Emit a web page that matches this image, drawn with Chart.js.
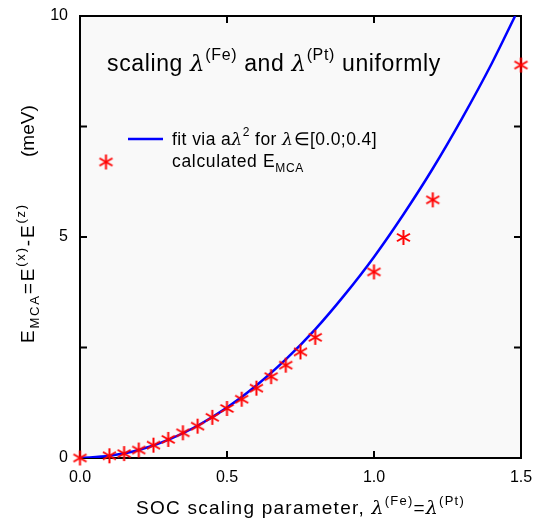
<!DOCTYPE html>
<html>
<head>
<meta charset="utf-8">
<script src="https://cdn.jsdelivr.net/npm/chart.js@4/dist/chart.umd.min.js"></script>
<style>
  html, body { margin: 0; padding: 0; background: #fff; }
  #wrap { width: 534px; height: 522px; }
</style>
</head>
<body>
<div id="wrap"><canvas id="emcaChart"></canvas></div>
<script>
// values
const lambdaCalc = [0, 0.1, 0.15, 0.2, 0.25, 0.3, 0.35, 0.4, 0.45, 0.5, 0.55, 0.6, 0.65, 0.7, 0.75, 0.8, 1.0, 1.1, 1.2, 1.5];
const emcaCalc = [0, 0.05, 0.1, 0.18, 0.29, 0.42, 0.57, 0.72, 0.92, 1.12, 1.33, 1.58, 1.84, 2.1, 2.4, 2.73, 4.21, 4.99, 5.84, 8.89];

const lambdaFit = [0, 0.1, 0.2, 0.3, 0.4, 0.5, 0.6, 0.7, 0.8, 0.9, 1.0, 1.1, 1.2, 1.3, 1.4, 1.48];
const emcaFit = [0, 0.05, 0.18, 0.41, 0.73, 1.14, 1.64, 2.23, 2.91, 3.69, 4.55, 5.51, 6.55, 7.69, 8.92, 10];

const xTickMarks = [0.5, 1.0];
const yTickMarks = [2.5, 5, 7.5];

const FONT = '"Liberation Sans", Arial, sans-serif';
const GREEK = '"DejaVu Serif", serif';

// six-ray asterisk used for the calculated points
function makeAsterisk(r, color) {
    const c = document.createElement('canvas');
    const s = Math.ceil(r * 2 + 4);
    c.width = s; c.height = s;
    const g = c.getContext('2d');
    g.strokeStyle = color;
    g.lineWidth = 2;
    g.translate(s / 2, s / 2);
    for (let i = 0; i < 3; i++) {
        const a = Math.PI / 2 + i * Math.PI / 3;
        g.beginPath();
        g.moveTo(Math.cos(a) * r, Math.sin(a) * r);
        g.lineTo(-Math.cos(a) * r, -Math.sin(a) * r);
        g.stroke();
    }
    return c;
}
const asterisk = makeAsterisk(7.5, '#ff0000');

function partFont(p, size) {
    let fs = size, dy = 0, font;
    if (p[1] === 'sup') { fs = Math.round(size * 0.7); dy = -size * 0.5; }
    if (p[1] === 'sub') { fs = Math.round(size * 0.7); dy = size * 0.28; }
    font = p[1] === 'g' ? 'italic ' + fs + 'px ' + GREEK : fs + 'px ' + FONT;
    return { font: font, dy: dy };
}

// text with super/subscripts: parts = [[text, 'n'|'g'|'sup'|'sub'], ...]
// spread out with letter spacing so it covers the given width
function drawRich(ctx, parts, x, y, size, width) {
    let natural = 0, chars = 0;
    ctx.letterSpacing = '0px';
    parts.forEach(function(p) {
        ctx.font = partFont(p, size).font;
        natural += ctx.measureText(p[0]).width;
        chars += p[0].length;
    });
    const sp = width ? Math.max(0, (width - natural) / chars) : 0;
    let cx = x;
    parts.forEach(function(p) {
        const f = partFont(p, size);
        ctx.font = f.font;
        ctx.letterSpacing = '0px';
        const w = ctx.measureText(p[0]).width + sp * p[0].length;
        ctx.letterSpacing = sp.toFixed(2) + 'px';
        ctx.fillText(p[0], cx, y + f.dy);
        cx += w;
    });
    ctx.letterSpacing = '0px';
}

const decorPlugin = {
    id: 'decor',
    beforeDraw(chart) {
        const a = chart.chartArea, ctx = chart.ctx;
        ctx.save();
        ctx.fillStyle = '#f9f9f9';
        ctx.fillRect(a.left, a.top, a.right - a.left, a.bottom - a.top);
        ctx.restore();
    },
    beforeDatasetsDraw(chart) {
        const a = chart.chartArea, ctx = chart.ctx;
        const xs = chart.scales.x, ys = chart.scales.y;
        ctx.save();
        ctx.strokeStyle = '#000';
        ctx.lineWidth = 2;
        ctx.strokeRect(a.left, a.top, a.right - a.left, a.bottom - a.top);
        ctx.beginPath();
        xTickMarks.forEach(function(v) {
            const px = xs.getPixelForValue(v);
            ctx.moveTo(px, a.bottom); ctx.lineTo(px, a.bottom - 7);
            ctx.moveTo(px, a.top); ctx.lineTo(px, a.top + 7);
        });
        yTickMarks.forEach(function(v) {
            const py = ys.getPixelForValue(v);
            ctx.moveTo(a.left, py); ctx.lineTo(a.left + 7, py);
            ctx.moveTo(a.right, py); ctx.lineTo(a.right - 7, py);
        });
        ctx.stroke();
        ctx.restore();
    },
    afterDraw(chart) {
        const ctx = chart.ctx;
        ctx.save();
        ctx.fillStyle = '#000';
        ctx.textBaseline = 'alphabetic';
        ctx.textAlign = 'left';

        // inner title
        drawRich(ctx, [['scaling ', 'n'], ['\u03bb', 'g'], ['(Fe)', 'sup'], [' and ', 'n'], ['\u03bb', 'g'], ['(Pt)', 'sup'], [' uniformly', 'n']], 107, 71, 23, 334);

        // legend
        ctx.strokeStyle = '#0000ff';
        ctx.lineWidth = 2.5;
        ctx.beginPath();
        ctx.moveTo(128, 139); ctx.lineTo(163, 139);
        ctx.stroke();
        ctx.drawImage(asterisk, 106 - asterisk.width / 2, 162 - asterisk.height / 2);
        drawRich(ctx, [['fit via a', 'n'], ['\u03bb', 'g'], ['2', 'sup'], [' for ', 'n'], ['\u03bb', 'g'], ['\u2208[0.0;0.4]', 'n']], 172, 145, 17.5, 205);
        drawRich(ctx, [['calculated E', 'n'], ['MCA', 'sub']], 172, 167, 17.5, 132);

        // x axis title
        drawRich(ctx, [['SOC scaling parameter, ', 'n'], ['\u03bb', 'g'], ['(Fe)', 'sup'], ['=', 'n'], ['\u03bb', 'g'], ['(Pt)', 'sup']], 136, 514, 19, 329);

        // y axis title (rotated)
        ctx.translate(34, 343);
        ctx.rotate(-Math.PI / 2);
        drawRich(ctx, [['E', 'n'], ['MCA', 'sub'], ['=E', 'n'], ['(x)', 'sup'], ['-E', 'n'], ['(z)', 'sup']], 0, 0, 19, 140);
        drawRich(ctx, [['(meV)', 'n']], 186, 0, 19, 40);
        ctx.restore();
    }
};

new Chart(document.getElementById('emcaChart').getContext('2d'), {
    type: 'scatter',
    data: {
        datasets: [{
            label: 'calculated EMCA',
            data: lambdaCalc.map(function(l, i) { return { x: l, y: emcaCalc[i] }; }),
            pointStyle: asterisk,
            pointRadius: 7,
            showLine: false,
            clip: false
        }, {
            label: 'fit',
            type: 'line',
            data: lambdaFit.map(function(l, i) { return { x: l, y: emcaFit[i] }; }),
            borderColor: '#0000ff',
            borderWidth: 2.5,
            pointRadius: 0,
            fill: false,
            cubicInterpolationMode: 'monotone'
        }]
    },
    options: {
        responsive: true,
        maintainAspectRatio: false,
        animation: false,
        layout: { padding: { left: 0, top: 16, right: 13, bottom: 0 } },
        plugins: {
            legend: { display: false },
            tooltip: { enabled: false }
        },
        scales: {
            x: {
                type: 'linear',
                min: 0,
                max: 1.5,
                grid: { display: false, drawTicks: false },
                border: { display: false },
                ticks: {
                    stepSize: 0.5,
                    padding: 10,
                    maxRotation: 0,
                    color: '#000',
                    font: { size: 16, family: FONT },
                    callback: function(v) { return v.toFixed(1); }
                },
                afterFit: function(s) {
                    s.height = 64;
                    s.paddingLeft = 0; s.paddingRight = 0;
                }
            },
            y: {
                min: 0,
                max: 10,
                grid: { display: false, drawTicks: false },
                border: { display: false },
                ticks: {
                    stepSize: 5,
                    padding: 12,
                    color: '#000',
                    font: { size: 16, family: FONT }
                },
                afterFit: function(s) {
                    s.width = 80;
                    s.paddingTop = 0; s.paddingBottom = 0;
                }
            }
        }
    },
    plugins: [decorPlugin]
});
</script>
</body>
</html>
